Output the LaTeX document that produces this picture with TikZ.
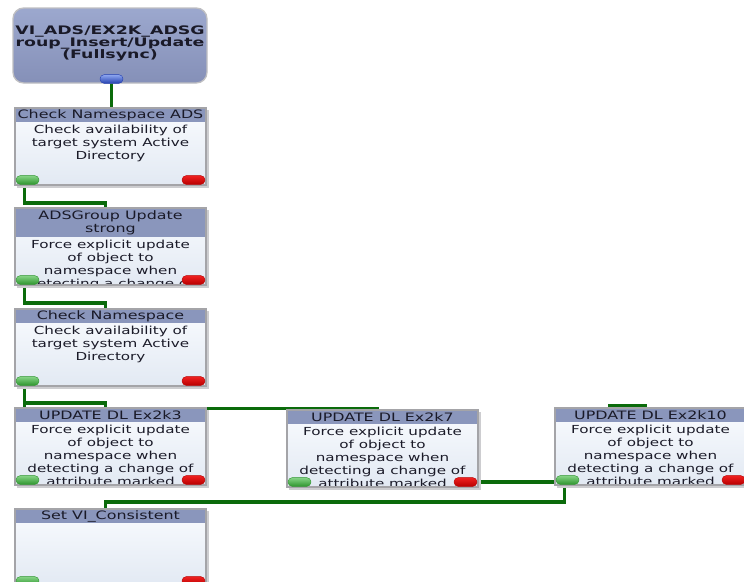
\documentclass[tikz,border=0pt]{standalone}
\usepackage{fontspec}
\newfontfamily\uifont[FakeStretch=1.37]{DejaVu Sans}
\newfontfamily\titlefont[FakeStretch=1.48]{DejaVu Sans}
\usetikzlibrary{calc}
\pgfdeclarelayer{wires}
\pgfsetlayers{wires,main}

\definecolor{wiregreen}{HTML}{0B6B0B}
\definecolor{hdrfill}{HTML}{8A96BC}
\definecolor{bodyhi}{HTML}{F9FBFE}
\definecolor{bodylo}{HTML}{E2E9F3}
\definecolor{edgegray}{HTML}{A4A4A8}
\definecolor{shadowgray}{HTML}{CDCDD0}
\definecolor{inkdark}{HTML}{1A1A28}
\definecolor{okhi}{HTML}{86D486}
\definecolor{oklo}{HTML}{2E952E}
\definecolor{errhi}{HTML}{F02020}
\definecolor{errlo}{HTML}{B80000}
\definecolor{porthi}{HTML}{8FA8F0}
\definecolor{portlo}{HTML}{2440B0}
\definecolor{starthi}{HTML}{9CA8CE}
\definecolor{startlo}{HTML}{8590B8}

% tight line spacing that ignores deep glyphs such as _ ( )
\newcommand\tightlines{\lineskiplimit=-20pt\relax}

\tikzset{
  stepframe/.style={rectangle, inner sep=0pt, outer sep=0pt,
    minimum width=143.25pt, minimum height=57.75pt},
  stepedge/.style={draw=edgegray, line width=0.8pt},
  stepshadow/.style={fill=shadowgray},
  wire/.style={draw=wiregreen, line width=2.3pt},
  pill/.style={rectangle, rounded corners=3.2pt, inner sep=0pt, outer sep=0pt,
    minimum width=17.25pt, minimum height=6.6pt, line width=0.3pt},
  okpill/.style={pill, top color=okhi, bottom color=oklo, draw=oklo},
  errpill/.style={pill, top color=errhi, bottom color=errlo, draw=errlo},
  portpill/.style={pill, top color=porthi, bottom color=portlo, draw=portlo},
  hdrtext/.style={font=\uifont\fontsize{8.7}{9.75}\selectfont\tightlines,
    text=inkdark, inner sep=0pt, align=center},
  bodytext/.style={font=\uifont\fontsize{8.3}{9.75}\selectfont\tightlines,
    text=inkdark, inner sep=0pt, align=center},
  startbox/.style={rectangle, rounded corners=8pt, inner sep=0pt,
    minimum width=145.5pt, minimum height=56.25pt,
    top color=starthi, bottom color=startlo, draw=edgegray!70, line width=1pt},
  starttext/.style={font=\titlefont\bfseries\fontsize{8.8}{9}\selectfont\tightlines,
    text=inkdark, inner sep=0pt, align=center},
}

% One process step: frame, title band, description, success and failure ports
% #1 name, #2 left, #3 top, #4 title band height, #5 title, #6 description
\newcommand\flowstep[6]{%
  \fill[stepshadow] (#2+2,#3+2) rectangle (#2+194,#3+80);
  \node[stepframe, anchor=north west] (#1) at (#2,#3) {};
  \begin{scope}
    \clip (#1.north west) rectangle (#1.south east);
    \shade[top color=bodyhi, bottom color=bodylo] (#1.north west) rectangle (#1.south east);
    \fill[hdrfill] (#1.north west) rectangle ($(#1.north east)+(0,#4)$);
    \node[hdrtext] (#1-t) at ($(#1.north)+(0,#4/2+0.5)$) {#5};
    \node[bodytext, anchor=north] (#1-d) at ($(#1.north)+(0,#4+3)$) {#6};
  \end{scope}
  \draw[stepedge] (#1.north west) rectangle (#1.south east);
  \node[okpill] (#1-ok) at ($(#1.south west)+(12.5,-5)$) {};
  \node[errpill] (#1-err) at ($(#1.south west)+(178.5,-5)$) {};
}

\begin{document}
\begin{tikzpicture}[x=0.75pt,y=-0.75pt]
\useasboundingbox (0,0) rectangle (744,582);
\clip (0,0) rectangle (744,582);

% start event
\node[startbox] (start) at (110,45.5) {};
\node[starttext] (start-t) at (110,43) {VI\_ADS/EX2K\_ADSG\\roup\_Insert/Update\\(Fullsync)};
\node[portpill] (start-port) at (111.5,79) {};

% process steps
\flowstep{b1}{15}{108}{14}{Check Namespace ADS}
  {Check availability of\\target system Active\\Directory}
\flowstep{b2}{15}{208}{29}{ADSGroup Update\\strong}
  {Force explicit update\\of object to\\namespace when\\detecting a change of}
\flowstep{b3}{15}{309}{14}{Check Namespace}
  {Check availability of\\target system Active\\Directory}
\flowstep{b4}{15}{408}{14}{UPDATE DL Ex2k3}
  {Force explicit update\\of object to\\namespace when\\detecting a change of\\attribute marked}
\flowstep{b5}{287}{410}{14}{UPDATE DL Ex2k7}
  {Force explicit update\\of object to\\namespace when\\detecting a change of\\attribute marked}
\flowstep{b6}{555}{408}{14}{UPDATE DL Ex2k10}
  {Force explicit update\\of object to\\namespace when\\detecting a change of\\attribute marked}
\flowstep{b7}{15}{509}{14}{Set VI\_Consistent}{}

\coordinate (stub) at (608,406);

% connectors, beneath the steps
\begin{pgfonlayer}{wires}
  \fill[white] (0,0) rectangle (744,582);
  \draw[wire] (start-port.south) -- (start-port.south |- b1.north);
  \draw[wire] ([xshift=-2.6pt]b1-ok.south) |- ($(b2.north)+(-5,-5)$) -- ($(b2.north)+(-5,1)$);
  \draw[wire] ([xshift=-2.6pt]b2-ok.south) |- ($(b3.north)+(-5,-6)$) -- ($(b3.north)+(-5,1)$);
  \draw[wire] ([xshift=-2.6pt]b3-ok.south) |- ($(b4.north)+(-5,-5)$) -- ($(b4.north)+(-5,1)$);
  \draw[wire] ([xshift=-2.6pt]b3-ok.south) |- ($(b5.north)+(-5,-1.5)$) -- ($(b5.north)+(-5,1)$);
  \draw[wire] (stub) -| ($(b6.north)+(-5,1)$);
  \draw[wire] (b5-err.east) -- (b5-err.east -| b6-ok.center);
  \draw[wire] ([xshift=-2.6pt]b6-ok.south) |- ($(b7.north)+(-5,-7)$) -- ($(b7.north)+(-5,1)$);
\end{pgfonlayer}
\end{tikzpicture}
\end{document}
